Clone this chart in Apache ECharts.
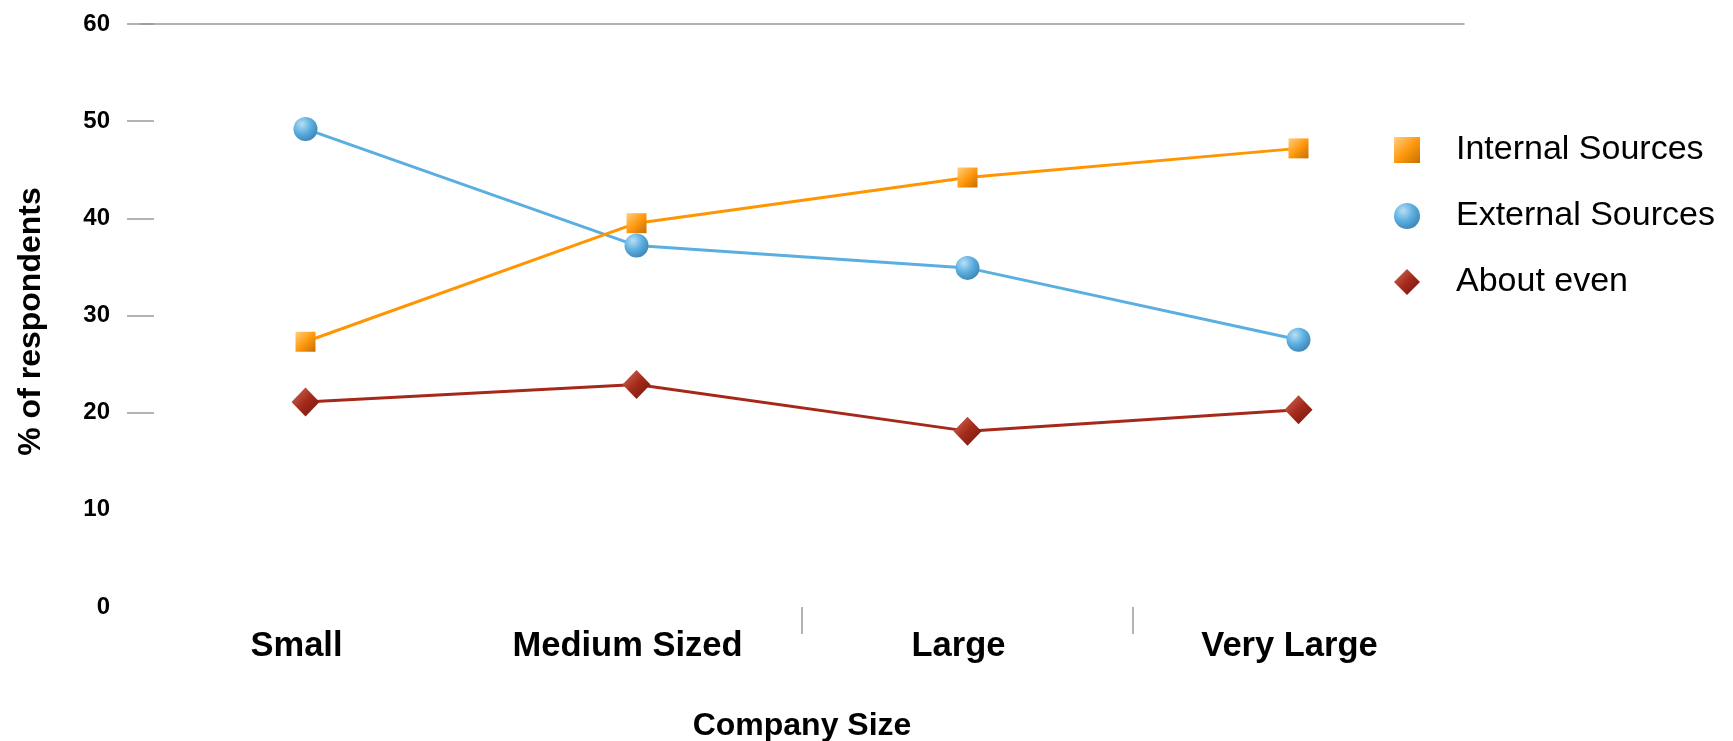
<!DOCTYPE html>
<html>
<head>
<meta charset="utf-8">
<script src="https://cdn.jsdelivr.net/npm/echarts@6/dist/echarts.min.js"></script>
<style>
html,body{margin:0;padding:0;background:#fff;}
#chart{width:1733px;height:741px;}
</style>
</head>
<body>
<div id="chart"></div>
<script>
const categories = ['Small', 'Medium Sized', 'Large', 'Very Large'];
const internalSources = [27.3, 39.5, 44.2, 47.2];
const externalSources = [49.2, 37.2, 34.9, 27.5];
const aboutEven = [21.1, 22.9, 18.1, 20.3];
const yTickValues = [20, 30, 40, 50, 60];
const xTickPositions = [2, 3];
const seriesNames = ['Internal Sources', 'External Sources', 'About even'];

const FONT = '"Liberation Sans", Arial, Helvetica, sans-serif';
const GRAY = '#9a9a9a';

function lin(stops) {
  return new echarts.graphic.LinearGradient(0, 0, 1, 1, stops.map((c, i) => ({offset: i / (stops.length - 1), color: c})));
}
function rad(stops) {
  return new echarts.graphic.RadialGradient(0.35, 0.3, 0.8, stops.map((c, i) => ({offset: i / (stops.length - 1), color: c})));
}

const orangeFill = lin(['#ffcf80', '#ff9a10', '#c86e00']);
const blueFill = rad(['#b9def4', '#5aaee0', '#3a7fae']);
const redFill = lin(['#d2705e', '#a42a1b', '#6f160c']);

const chart = echarts.init(document.getElementById('chart'));
chart.setOption({
  animation: false,
  backgroundColor: '#ffffff',
  textStyle: {fontFamily: FONT},
  grid: {left: 140, right: 269, top: 24, bottom: 134, containLabel: false, outerBoundsMode: 'none'},
  legend: {
    orient: 'vertical',
    left: 1389,
    top: 128,
    itemWidth: 26,
    itemHeight: 26,
    itemGap: 32,
    textStyle: {fontFamily: FONT, fontSize: 34, color: '#000', padding: [0, 0, 0, 31]},
    data: [
      {name: seriesNames[0], icon: 'rect', itemStyle: {color: orangeFill}},
      {name: seriesNames[1], icon: 'circle', itemStyle: {color: blueFill}},
      {name: seriesNames[2], icon: 'diamond', itemStyle: {color: redFill}}
    ]
  },
  xAxis: [{
    type: 'category',
    data: categories,
    boundaryGap: true,
    name: 'Company Size',
    nameLocation: 'middle',
    nameGap: 103,
    nameTextStyle: {fontFamily: FONT, fontSize: 32, fontWeight: 'bold', color: '#000'},
    axisLine: {show: false},
    axisTick: {show: false},
    axisLabel: {fontFamily: FONT, fontSize: 34.5, fontWeight: 'bold', color: '#000', margin: 22, padding: [0, 18, 0, 0]},
    splitLine: {show: false}
  }, {
    type: 'category',
    data: categories,
    position: 'top',
    axisLine: {show: true, onZero: false, lineStyle: {color: GRAY, width: 1.5}},
    axisTick: {show: false},
    axisLabel: {show: false},
    splitLine: {show: false}
  }, {
    type: 'value',
    min: 0,
    max: categories.length,
    position: 'bottom',
    axisLine: {show: false, onZero: false},
    axisTick: {show: true, length: 27, customValues: xTickPositions, lineStyle: {color: GRAY, width: 1.5}},
    axisLabel: {show: false},
    splitLine: {show: false}
  }],
  yAxis: {
    type: 'value',
    min: 0,
    max: 60,
    interval: 10,
    offset: 13,
    name: '% of respondents',
    nameLocation: 'middle',
    nameGap: 80,
    nameTextStyle: {fontFamily: FONT, fontSize: 32, fontWeight: 'bold', color: '#000', padding: [0, 12, 0, 0]},
    axisLine: {show: false, onZero: false},
    axisTick: {show: true, inside: true, length: 27, customValues: yTickValues, lineStyle: {color: GRAY, width: 1.5}},
    axisLabel: {fontFamily: FONT, fontSize: 24, fontWeight: 'bold', color: '#000', margin: 17},
    splitLine: {show: false}
  },
  series: [
    {
      name: seriesNames[0], type: 'line', data: internalSources,
      symbol: 'rect', symbolSize: 20, z: 3,
      lineStyle: {color: '#ff9500', width: 3},
      itemStyle: {color: orangeFill, borderWidth: 0}
    },
    {
      name: seriesNames[1], type: 'line', data: externalSources,
      symbol: 'circle', symbolSize: 24, z: 2,
      lineStyle: {color: '#5aafe0', width: 3},
      itemStyle: {color: blueFill, borderWidth: 0}
    },
    {
      name: seriesNames[2], type: 'line', data: aboutEven,
      symbol: 'diamond', symbolSize: [28, 29], z: 2,
      lineStyle: {color: '#a5281a', width: 3},
      itemStyle: {color: redFill, borderWidth: 0}
    }
  ]
});
</script>
</body>
</html>
